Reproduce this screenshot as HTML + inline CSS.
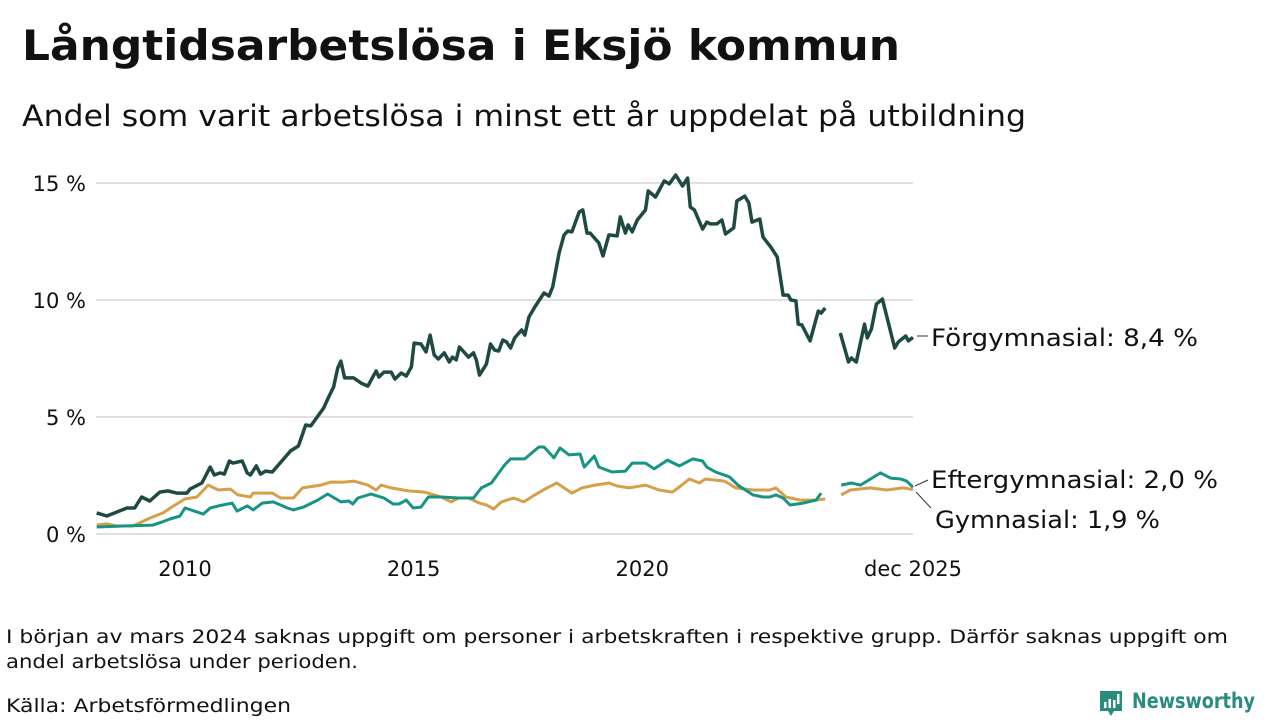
<!DOCTYPE html>
<html><head><meta charset="utf-8">
<style>
html,body{margin:0;padding:0;background:#fff;}
body{width:1280px;height:720px;overflow:hidden;font-family:"DejaVu Sans",sans-serif;color:#111;}
svg text{font-family:"DejaVu Sans",sans-serif;}
</style></head>
<body>
<svg id="chart" width="1280" height="720" viewBox="0 0 1280 720">
  <text x="22" y="60" font-size="42" font-weight="bold" fill="#111" textLength="878" lengthAdjust="spacingAndGlyphs">Långtidsarbetslösa i Eksjö kommun</text>
  <text x="22" y="126" font-size="29" fill="#111" textLength="1004" lengthAdjust="spacingAndGlyphs">Andel som varit arbetslösa i minst ett år uppdelat på utbildning</text>
  <g id="grid"></g>
  <g id="yticks"></g>
  <g id="xticks"></g>
  <g id="series"></g>
  <g>
    <line x1="917" y1="336" x2="928" y2="336" stroke="#333" stroke-width="1"/>
    <text x="931" y="346" font-size="24" fill="#111" textLength="267" lengthAdjust="spacingAndGlyphs">Förgymnasial: 8,4 %</text>
    <line x1="915" y1="486" x2="928" y2="480" stroke="#333" stroke-width="1"/>
    <text x="931" y="488" font-size="24" fill="#111" textLength="287" lengthAdjust="spacingAndGlyphs">Eftergymnasial: 2,0 %</text>
    <line x1="916" y1="492" x2="931" y2="508" stroke="#333" stroke-width="1"/>
    <text x="935" y="528" font-size="24" fill="#111" textLength="225" lengthAdjust="spacingAndGlyphs">Gymnasial: 1,9 %</text>
  </g>
  <text x="6" y="643" font-size="19" fill="#111" textLength="1222" lengthAdjust="spacingAndGlyphs">I början av mars 2024 saknas uppgift om personer i arbetskraften i respektive grupp. Därför saknas uppgift om</text>
  <text x="6" y="668" font-size="19" fill="#111" textLength="352" lengthAdjust="spacingAndGlyphs">andel arbetslösa under perioden.</text>
  <text x="6" y="712" font-size="19" fill="#111" textLength="285" lengthAdjust="spacingAndGlyphs">Källa: Arbetsförmedlingen</text>
  <g>
    <path d="M1100 691 h22 v20 h-8 l-3 5 l-3 -5 h-8 z" fill="#2a8c7e"/>
    <rect x="1104" y="702" width="2.5" height="6" fill="#fff"/>
    <rect x="1108.5" y="699" width="2.5" height="9" fill="#fff"/>
    <rect x="1113" y="700" width="2.5" height="8" fill="#fff"/>
    <rect x="1117" y="694" width="2.5" height="10" fill="#fff"/>
    <text x="1132" y="708" font-size="21" font-weight="bold" fill="#2a8c7e" textLength="123" lengthAdjust="spacingAndGlyphs">Newsworthy</text>
  </g>
</svg>
<script>
const yTicks=[0,5,10,15];
const yTickLabels=["0 %","5 %","10 %","15 %"];
const xTicks=[2010,2015,2020,2025.92];
const xTickLabels=["2010","2015","2020","dec 2025"];
const forgYears=[2008.07,2008.29,2008.51,2008.73,2008.90,2009.05,2009.23,2009.45,2009.63,2009.82,2010.04,2010.11,2010.37,2010.55,2010.64,2010.77,2010.86,2010.97,2011.05,2011.25,2011.36,2011.43,2011.56,2011.65,2011.76,2011.91,2012.31,2012.48,2012.64,2012.75,2013.03,2013.14,2013.25,2013.34,2013.41,2013.49,2013.69,2013.85,2014.00,2014.18,2014.24,2014.35,2014.51,2014.59,2014.73,2014.84,2014.95,2015.01,2015.16,2015.27,2015.36,2015.45,2015.54,2015.67,2015.78,2015.85,2015.93,2016.00,2016.20,2016.31,2016.37,2016.44,2016.59,2016.68,2016.77,2016.86,2016.95,2017.03,2017.12,2017.21,2017.36,2017.43,2017.52,2017.65,2017.85,2017.96,2018.04,2018.18,2018.29,2018.37,2018.46,2018.62,2018.70,2018.79,2018.86,2019.05,2019.14,2019.27,2019.45,2019.52,2019.63,2019.69,2019.78,2019.89,2020.07,2020.13,2020.29,2020.48,2020.59,2020.73,2020.88,2020.99,2021.05,2021.14,2021.32,2021.41,2021.49,2021.63,2021.74,2021.82,2022.00,2022.07,2022.24,2022.33,2022.40,2022.57,2022.64,2022.81,2022.95,2023.08,2023.19,2023.25,2023.36,2023.41,2023.49,2023.67,2023.85,2023.91,2024.00,2024.15,2024.33,2024.51,2024.57,2024.68,2024.86,2024.92,2025.01,2025.12,2025.25,2025.52,2025.60,2025.76,2025.82,2025.92];
const forgValues=[0.90,0.77,0.94,1.11,1.11,1.58,1.41,1.79,1.84,1.75,1.75,1.92,2.18,2.86,2.52,2.61,2.56,3.12,3.03,3.12,2.61,2.52,2.91,2.56,2.69,2.65,3.55,3.76,4.66,4.62,5.38,5.85,6.28,7.09,7.39,6.67,6.67,6.45,6.32,6.97,6.71,6.92,6.92,6.62,6.88,6.75,7.14,8.16,8.12,7.78,8.50,7.65,7.48,7.74,7.35,7.56,7.44,7.99,7.56,7.74,7.44,6.79,7.26,8.12,7.86,7.82,8.29,8.21,7.95,8.38,8.72,8.50,9.27,9.70,10.30,10.17,10.56,12.01,12.78,12.95,12.91,13.76,13.85,12.86,12.86,12.44,11.88,12.78,12.74,13.55,12.86,13.21,12.91,13.42,13.85,14.66,14.40,15.09,14.96,15.34,14.87,15.21,13.97,13.85,13.03,13.33,13.25,13.25,13.42,12.82,13.08,14.23,14.44,14.15,13.33,13.46,12.69,12.26,11.84,10.21,10.21,10.00,9.96,8.97,8.93,8.25,9.53,9.44,9.66,null,8.59,7.35,7.52,7.35,8.97,8.38,8.76,9.83,10.04,7.95,8.21,8.46,8.25,8.4];
const efterYears=[2008.07,2008.64,2009.30,2009.49,2009.67,2009.89,2010.00,2010.40,2010.55,2010.73,2011.03,2011.14,2011.36,2011.49,2011.69,2011.93,2012.24,2012.37,2012.59,2012.90,2013.12,2013.41,2013.58,2013.67,2013.78,2014.07,2014.35,2014.55,2014.68,2014.84,2014.99,2015.16,2015.32,2015.60,2015.98,2016.31,2016.48,2016.70,2016.99,2017.12,2017.43,2017.74,2017.85,2018.07,2018.20,2018.40,2018.64,2018.73,2018.95,2019.05,2019.34,2019.63,2019.78,2020.07,2020.26,2020.55,2020.81,2021.10,2021.32,2021.41,2021.60,2021.91,2022.09,2022.42,2022.64,2022.79,2022.92,2023.08,2023.23,2023.52,2023.80,2023.91,2024.15,2024.35,2024.57,2024.77,2024.99,2025.21,2025.43,2025.65,2025.78,2025.92];
const efterValues=[0.30,0.34,0.38,0.51,0.64,0.77,1.11,0.85,1.11,1.20,1.32,0.98,1.20,1.03,1.32,1.37,1.11,1.03,1.15,1.45,1.71,1.37,1.41,1.28,1.54,1.71,1.54,1.28,1.28,1.45,1.11,1.15,1.58,1.58,1.54,1.54,1.97,2.18,2.95,3.21,3.21,3.72,3.72,3.25,3.68,3.38,3.42,2.86,3.33,2.86,2.65,2.69,3.03,3.03,2.78,3.16,2.91,3.21,3.12,2.86,2.65,2.44,2.09,1.67,1.58,1.58,1.67,1.54,1.24,1.32,1.45,1.75,null,2.09,2.18,2.09,2.35,2.61,2.39,2.35,2.26,2.0];
const gymYears=[2008.07,2008.29,2008.51,2008.86,2009.23,2009.52,2009.71,2010.00,2010.26,2010.51,2010.73,2010.99,2011.16,2011.43,2011.49,2011.91,2012.09,2012.37,2012.57,2012.97,2013.19,2013.47,2013.69,2014.00,2014.18,2014.29,2014.51,2014.88,2015.23,2015.60,2015.82,2015.98,2016.20,2016.44,2016.59,2016.75,2016.92,2017.19,2017.41,2017.65,2017.87,2018.13,2018.46,2018.68,2018.97,2019.27,2019.45,2019.71,2020.07,2020.37,2020.66,2020.81,2021.03,2021.25,2021.38,2021.80,2022.04,2022.42,2022.79,2022.92,2023.14,2023.45,2023.80,2024.00,2024.15,2024.35,2024.55,2024.99,2025.34,2025.71,2025.92];
const gymValues=[0.38,0.43,0.34,0.34,0.68,0.90,1.15,1.50,1.58,2.09,1.88,1.92,1.67,1.58,1.75,1.75,1.54,1.54,1.97,2.09,2.22,2.22,2.26,2.09,1.88,2.09,1.97,1.84,1.79,1.58,1.37,1.54,1.54,1.32,1.24,1.07,1.37,1.54,1.37,1.67,1.92,2.18,1.75,1.97,2.09,2.18,2.05,1.97,2.09,1.88,1.79,2.01,2.35,2.18,2.35,2.26,1.97,1.88,1.88,1.97,1.58,1.45,1.45,1.50,null,1.67,1.88,1.97,1.88,1.97,1.9];

const NS='http://www.w3.org/2000/svg';
const X0=96,X1=913,Y0=534,Y1=183;
function xScale(yr){return 185+(yr-2010)*(913-185)/(2025.92-2010);}
function yScale(v){return Y0-(v/15)*(Y0-Y1);}
function mk(tag,attrs,parent){const e=document.createElementNS(NS,tag);for(const k in attrs)e.setAttribute(k,attrs[k]);parent.appendChild(e);return e;}
const grid=document.getElementById('grid'),yg=document.getElementById('yticks'),xg=document.getElementById('xticks'),sg=document.getElementById('series');
yTicks.forEach((t,i)=>{
  const l=mk('line',{x1:X0,x2:X1,y1:yScale(t),y2:yScale(t),stroke:'#e0e0e3','stroke-width':2},grid);
  
  
  const tx=mk('text',{x:86,y:yScale(t)+8,'font-size':21,'text-anchor':'end',fill:'#111'},yg);
  tx.textContent=yTickLabels[i];
  
  
});
xTicks.forEach((t,i)=>{
  const tx=mk('text',{x:xScale(t),y:576,'font-size':21,'text-anchor':'middle',fill:'#111'},xg);
  tx.textContent=xTickLabels[i];
  
  
});
function path(years,vals){let d='',pen=false;for(let i=0;i<years.length;i++){if(vals[i]==null){pen=false;continue;}d+=(pen?'L':'M')+xScale(years[i]).toFixed(1)+' '+yScale(vals[i]).toFixed(1)+' ';pen=true;}return d;}
const p1=mk('path',{d:path(gymYears,gymValues),fill:'none',stroke:'#d4a04a','stroke-width':3,'stroke-linejoin':'round'},sg);


const p2=mk('path',{d:path(efterYears,efterValues),fill:'none',stroke:'#179483','stroke-width':3,'stroke-linejoin':'round'},sg);


const p3=mk('path',{d:path(forgYears,forgValues),fill:'none',stroke:'#1f4a43','stroke-width':3.5,'stroke-linejoin':'round'},sg);


</script>
</body></html>
